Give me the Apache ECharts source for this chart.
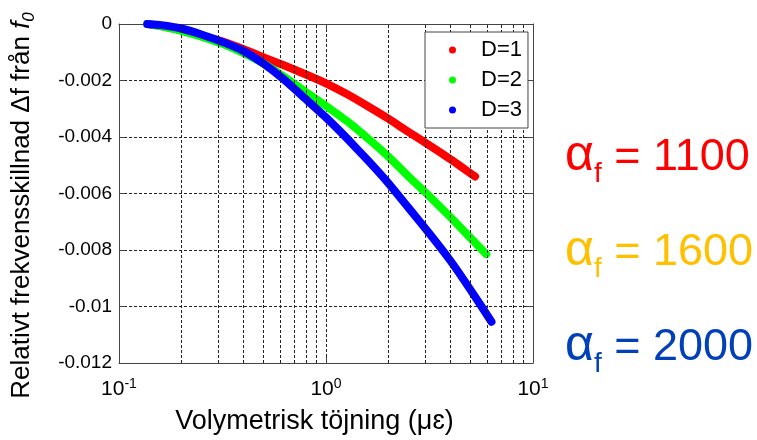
<!DOCTYPE html>
<html>
<head>
<meta charset="utf-8">
<script src="https://cdn.jsdelivr.net/npm/echarts@6/dist/echarts.min.js"></script>
<style>
html,body{margin:0;padding:0;background:#fff;}
#chart{width:757px;height:440px;}
</style>
</head>
<body>
<div id="chart"></div>
<script>
// ---- data ----
const seriesNames = ['D=1', 'D=2', 'D=3'];
const xD1 = [0.137, 0.16, 0.2, 0.25, 0.32, 0.4, 0.5, 0.63, 0.79, 1, 1.26, 1.6, 2, 2.5, 3.2, 4, 5, 5.25];
const yD1 = [0, -0.00007, -0.00022, -0.00041, -0.00063, -0.00089, -0.00118, -0.00147, -0.00177, -0.0021, -0.00248, -0.00292, -0.00335, -0.00382, -0.00432, -0.00479, -0.00529, -0.0054];
const xD2 = [0.137, 0.16, 0.2, 0.25, 0.32, 0.4, 0.5, 0.63, 0.79, 1, 1.26, 1.6, 2, 2.5, 3.2, 4, 5, 5.95];
const yD2 = [0, -0.00008, -0.00024, -0.00045, -0.00072, -0.00103, -0.0014, -0.00188, -0.00238, -0.0029, -0.00343, -0.00406, -0.00469, -0.00539, -0.00614, -0.00684, -0.00758, -0.00815];
const xD3 = [0.137, 0.16, 0.2, 0.25, 0.32, 0.4, 0.5, 0.63, 0.79, 1, 1.26, 1.6, 2, 2.5, 3.2, 4, 5, 6.3];
const yD3 = [0, -0.00004, -0.00016, -0.00037, -0.00065, -0.00096, -0.00141, -0.00198, -0.00263, -0.00331, -0.00404, -0.00484, -0.00563, -0.0065, -0.00747, -0.00839, -0.00942, -0.01054];
const xMinorGrid = [0.2, 0.3, 0.4, 0.5, 0.6, 0.7, 0.8, 0.9, 2, 3, 4, 5, 6, 7, 8, 9];
const xTickLabels = ['10{sup|-1}', '10{sup|0}', '10{sup|1}'];
const alphaLabels = ['1100', '1600', '2000'];
const alphaColors = ['#ff0000', '#ffc000', '#0040b8'];
const colors = ['#ff0000', '#00ff00', '#0000ff'];

const pairs = (xs, ys) => xs.map((x, i) => [x, ys[i]]);
const seriesData = [pairs(xD1, yD1), pairs(xD2, yD2), pairs(xD3, yD3)];

const FONT = 'Liberation Sans, Arial, sans-serif';
const axisColor = '#444';
const gridDash = {color: '#222', width: 1, type: [3, 2]};

const chart = echarts.init(document.getElementById('chart'), null, {renderer: 'canvas'});

const xAxisBase = {
  type: 'log', logBase: 10, min: 0.1, max: 10,
  axisLine: {show: true, onZero: false, lineStyle: {color: axisColor, width: 1}},
  axisTick: {show: true, inside: true, length: 6, lineStyle: {color: axisColor}},
  minorTick: {show: false}
};
const yAxisBase = {
  type: 'value', min: -0.012, max: 0, interval: 0.002,
  axisLine: {show: true, onZero: false, lineStyle: {color: axisColor, width: 1}},
  axisTick: {show: true, inside: true, length: 6, lineStyle: {color: axisColor}}
};

const series = seriesNames.map((name, i) => ({
  name: name,
  type: 'line',
  xAxisIndex: 0, yAxisIndex: 0,
  data: seriesData[i],
  smooth: 0.15,
  showSymbol: false,
  symbol: 'circle',
  z: 3,
  itemStyle: {color: colors[i]},
  lineStyle: {color: colors[i], width: 8, cap: 'round', join: 'round'},
  emphasis: {disabled: true},
  animation: false
}));
series.unshift({
  name: 'minorgrid',
  type: 'line',
  xAxisIndex: 0, yAxisIndex: 0,
  data: [],
  z: 1,
  silent: true,
  markLine: {
    silent: true,
    symbol: ['none', 'none'],
    label: {show: false},
    lineStyle: gridDash,
    emphasis: {disabled: true},
    animation: false,
    data: xMinorGrid.map(v => ({xAxis: v}))
  }
});

const graphics = alphaLabels.map((val, i) => ({
  type: 'text',
  left: 565,
  top: 131 + i * 95,
  z: 10,
  style: {
    text: '{a|α}{s|f}{n| = ' + val + '}',
    fill: alphaColors[i],
    rich: {
      a: {fontFamily: FONT, fontSize: 50, lineHeight: 50, verticalAlign: 'bottom', padding: [0, 0, 7, 0], fill: alphaColors[i]},
      s: {fontFamily: FONT, fontSize: 28, lineHeight: 28, verticalAlign: 'bottom', fill: alphaColors[i]},
      n: {fontFamily: FONT, fontSize: 45, lineHeight: 45, verticalAlign: 'bottom', padding: [0, 0, 8, 0], fill: alphaColors[i]}
    }
  }
}));

const option = {
  backgroundColor: '#fff',
  animation: false,
  textStyle: {fontFamily: FONT},
  grid: {left: 119, right: 224, top: 24, bottom: 73, containLabel: false},
  legend: {
    orient: 'vertical',
    left: 425, top: 32,
    data: seriesNames.map((n, i) => ({name: n, icon: 'circle', itemStyle: {color: colors[i]}})),
    itemWidth: 7, itemHeight: 7,
    itemGap: 8,
    padding: [7, 6, 7, 24],
    backgroundColor: '#fff',
    borderColor: axisColor, borderWidth: 1,
    textStyle: {fontFamily: FONT, fontSize: 22, color: '#000', padding: [0, 0, 0, 20]},
    selectedMode: false,
    z: 20
  },
  xAxis: [
    Object.assign({}, xAxisBase, {
      position: 'bottom',
      name: 'Volymetrisk töjning (μɛ)',
      nameLocation: 'middle',
      nameGap: 45,
      nameTextStyle: {fontFamily: FONT, fontSize: 27, color: '#000', padding: [0, 23, 0, 0]},
      axisLabel: {
        show: true, margin: 14, color: '#000',
        formatter: v => xTickLabels[Math.round(Math.log10(v)) + 1],
        rich: {sup: {fontFamily: FONT, fontSize: 14, color: '#000', verticalAlign: 'top', padding: [0, 0, 10, 0]}},
        fontFamily: FONT, fontSize: 21
      },
      splitLine: {show: true, lineStyle: gridDash}
    }),
    Object.assign({}, xAxisBase, {
      position: 'top',
      axisLabel: {show: false},
      splitLine: {show: false}
    })
  ],
  yAxis: [
    Object.assign({}, yAxisBase, {
      position: 'left',
      name: 'Relativt frekvensskillnad Δf från {i|f}{sub|0}',
      nameLocation: 'middle',
      nameGap: 81,
      nameRotate: 90,
      nameTextStyle: {
        fontFamily: FONT, fontSize: 26, color: '#000', padding: [0, 24, 0, 0],
        rich: {
          i: {fontFamily: FONT, fontSize: 26, fontStyle: 'italic', color: '#000', lineHeight: 32, verticalAlign: 'middle'},
          sub: {fontFamily: FONT, fontSize: 17, fontStyle: 'italic', color: '#000', lineHeight: 17, verticalAlign: 'bottom'}
        }
      },
      axisLabel: {show: true, margin: 7, color: '#000', fontFamily: FONT, fontSize: 19},
      splitLine: {show: true, lineStyle: gridDash}
    }),
    Object.assign({}, yAxisBase, {
      position: 'right',
      axisLabel: {show: false},
      splitLine: {show: false}
    })
  ],
  series: series,
  graphic: graphics
};
chart.setOption(option);
</script>
</body>
</html>
